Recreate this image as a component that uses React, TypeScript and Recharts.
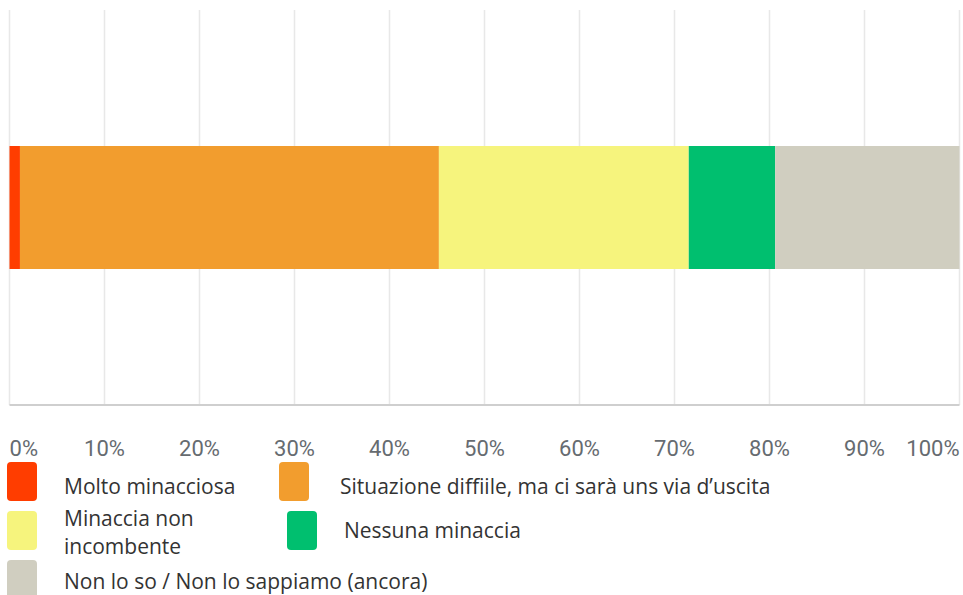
import { BarChart, Bar, XAxis, YAxis, CartesianGrid } from "recharts";

const seriesNames = [
  "Molto minacciosa",
  "Situazione diffiile, ma ci sarà uns via d’uscita",
  "Minaccia non incombente",
  "Nessuna minaccia",
  "Non lo so / Non lo sappiamo (ancora)",
];
const seriesValues = [1.1, 44.1, 26.3, 9.1, 19.4];
const seriesColors = ["#FF3D00", "#F29D2E", "#F6F47D", "#00BF6F", "#D0CEC0"];
const tickValues = [0, 10, 20, 30, 40, 50, 60, 70, 80, 90, 100];

const keys = seriesNames.map((_, i) => "s" + i);
const row: Record<string, number | string> = { name: "risposta" };
keys.forEach((k, i) => {
  row[k] = seriesValues[i];
});
const chartData = [row];

const PercentTick = (props: any) => {
  const { x, y, payload, index } = props;
  const anchor = index === 0 ? "start" : index === tickValues.length - 1 ? "end" : "middle";
  return (
    <text
      x={x}
      y={y}
      dy={43}
      textAnchor={anchor}
      fill="#666b70"
      fontSize={22}
      fontFamily="Roboto"
    >
      {payload.value}%
    </text>
  );
};

const Swatch = ({ color, left, top }: { color: string; left: number; top: number }) => (
  <div
    style={{
      position: "absolute",
      left,
      top,
      width: 30,
      height: 39,
      borderRadius: 4,
      background: color,
    }}
  />
);

const labelStyle: React.CSSProperties = {
  position: "absolute",
  fontFamily: "'Open Sans', sans-serif",
  fontSize: 21,
  color: "#333",
  lineHeight: "28px",
  whiteSpace: "nowrap",
};

const App = () => {
  return (
    <div style={{ position: "absolute", left: 0, top: 0, width: 963, height: 595, background: "#fff", overflow: "hidden" }}>
      <BarChart
        width={963}
        height={465}
        data={chartData}
        layout="vertical"
        margin={{ top: 10, right: 3.5, left: 9.5, bottom: 0 }}
        barSize={123}
      >
        <CartesianGrid horizontal={false} stroke="#e8e8e8" strokeWidth={1.5} />
        <XAxis
          type="number"
          domain={[0, 100]}
          ticks={tickValues}
          tick={<PercentTick />}
          tickLine={false}
          axisLine={{ stroke: "#cfcfcf", strokeWidth: 2 }}
          height={60}
          interval={0}
        />
        <YAxis
          type="category"
          dataKey="name"
          width={0}
          tick={false}
          tickLine={false}
          axisLine={{ stroke: "#cfcfcf", strokeWidth: 2 }}
        />
        {keys.map((k, i) => (
          <Bar key={k} dataKey={k} stackId="a" fill={seriesColors[i]} isAnimationActive={false} />
        ))}
      </BarChart>

      <Swatch color={seriesColors[0]} left={7} top={462} />
      <div style={{ ...labelStyle, left: 64, top: 472 }}>{seriesNames[0]}</div>

      <Swatch color={seriesColors[1]} left={279} top={462} />
      <div style={{ ...labelStyle, left: 340, top: 472 }}>{seriesNames[1]}</div>

      <Swatch color={seriesColors[2]} left={7} top={511} />
      <div style={{ ...labelStyle, left: 64, top: 504, whiteSpace: "normal", width: 160 }}>
        {seriesNames[2]}
      </div>

      <Swatch color={seriesColors[3]} left={287} top={511} />
      <div style={{ ...labelStyle, left: 344, top: 516 }}>{seriesNames[3]}</div>

      <Swatch color={seriesColors[4]} left={7} top={560} />
      <div style={{ ...labelStyle, left: 64, top: 567 }}>{seriesNames[4]}</div>
    </div>
  );
};

export default App;
